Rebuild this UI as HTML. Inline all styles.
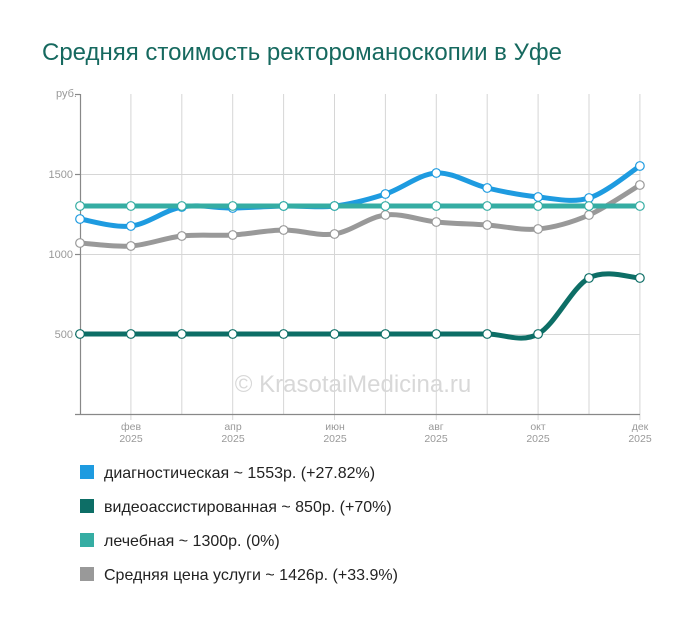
<!DOCTYPE html>
<html><head><meta charset="utf-8"><style>
body{margin:0;background:#fff;width:700px;height:625px;overflow:hidden;font-family:"Liberation Sans","Noto Sans CJK SC",sans-serif}
</style></head><body>
<svg id="s" width="700" height="625" xmlns="http://www.w3.org/2000/svg" font-family="Liberation Sans, sans-serif">
<text x="42" y="60" font-size="24" fill="#16695f">Средняя стоимость ректороманоскопии в Уфе</text>
<g stroke="#d6d6d6" stroke-width="1" id="grid">
<line x1="80" y1="174.5" x2="640" y2="174.5"/>
<line x1="80" y1="254.5" x2="640" y2="254.5"/>
<line x1="80" y1="334.5" x2="640" y2="334.5"/>
</g>
<g stroke="#888" stroke-width="1.2">
<line x1="80.5" y1="94" x2="80.5" y2="414"/>
<line x1="75" y1="414.5" x2="640" y2="414.5"/>
<line x1="75" y1="94.5" x2="80" y2="94.5"/>
<line x1="75" y1="174.5" x2="80" y2="174.5"/>
<line x1="75" y1="254.5" x2="80" y2="254.5"/>
<line x1="75" y1="334.5" x2="80" y2="334.5"/>
</g>
<g font-size="11" fill="#999" text-anchor="end">
<text x="77" y="97">руб.</text><text x="73" y="178">1500</text><text x="73" y="258">1000</text><text x="73" y="338">500</text>
</g>
<g font-size="10.5" fill="#999" text-anchor="middle">
<text x="131" y="430">фев</text><text x="131" y="442">2025</text>
<text x="233" y="430">апр</text><text x="233" y="442">2025</text>
<text x="335" y="430">июн</text><text x="335" y="442">2025</text>
<text x="436" y="430">авг</text><text x="436" y="442">2025</text>
<text x="538" y="430">окт</text><text x="538" y="442">2025</text>
<text x="640" y="430">дек</text><text x="640" y="442">2025</text>
</g>
<text x="353" y="392" font-size="24" fill="#d8d8d8" text-anchor="middle">© KrasotaiMedicina.ru</text>
<g id="lines"></g>
<g font-size="16" fill="#222">
<rect x="80" y="465" width="14" height="14" fill="#1e9be0"/><text x="104" y="478">диагностическая ~ 1553р. (+27.82%)</text>
<rect x="80" y="499" width="14" height="14" fill="#0d6e66"/><text x="104" y="512">видеоассистированная ~ 850р. (+70%)</text>
<rect x="80" y="533" width="14" height="14" fill="#35ada3"/><text x="104" y="546">лечебная ~ 1300р. (0%)</text>
<rect x="80" y="567" width="14" height="14" fill="#999"/><text x="104" y="580">Средняя цена услуги ~ 1426р. (+33.9%)</text>
</g>
</svg>
<script>
var ns="http://www.w3.org/2000/svg",g=document.getElementById('lines'),gr=document.getElementById('grid');
var X=[];for(var i=0;i<12;i++)X.push(80+i*50.9);
for(var i=1;i<12;i++){var l=document.createElementNS(ns,'line');l.setAttribute('x1',X[i]);l.setAttribute('x2',X[i]);l.setAttribute('y1',94);l.setAttribute('y2',i%2?420:414);gr.appendChild(l);}
var S=[
["#0d6e66",[334,334,334,334,334,334,334,334,334,334,278,278]],
["#999",[243,246,236,235,230,234,215,222,225,229,215,185]],
["#1e9be0",[219,226,207,208,206,206,194,173,188,197,198,166]],
["#35ada3",[206,206,206,206,206,206,206,206,206,206,206,206]]];
function path(Y){var d="M"+X[0]+" "+Y[0];for(var i=0;i<11;i++){var p0=i?i-1:0,p3=i+2<12?i+2:11;
var c1x=X[i]+(X[i+1]-X[p0])/6,c1y=Y[i]+(Y[i+1]-Y[p0])/6,c2x=X[i+1]-(X[p3]-X[i])/6,c2y=Y[i+1]-(Y[p3]-Y[i])/6;
d+=" C"+c1x+" "+c1y+" "+c2x+" "+c2y+" "+X[i+1]+" "+Y[i+1];}return d;}
S.forEach(function(s){var p=document.createElementNS(ns,'path');p.setAttribute('d',path(s[1]));p.setAttribute('fill','none');p.setAttribute('stroke',s[0]);p.setAttribute('stroke-width',5);g.appendChild(p);});
S.forEach(function(s){s[1].forEach(function(y,i){var c=document.createElementNS(ns,'circle');c.setAttribute('cx',X[i]);c.setAttribute('cy',y);c.setAttribute('r',4.3);c.setAttribute('fill','#fff');c.setAttribute('stroke',s[0]);c.setAttribute('stroke-width',1.2);g.appendChild(c);});});
</script>
</body></html>
